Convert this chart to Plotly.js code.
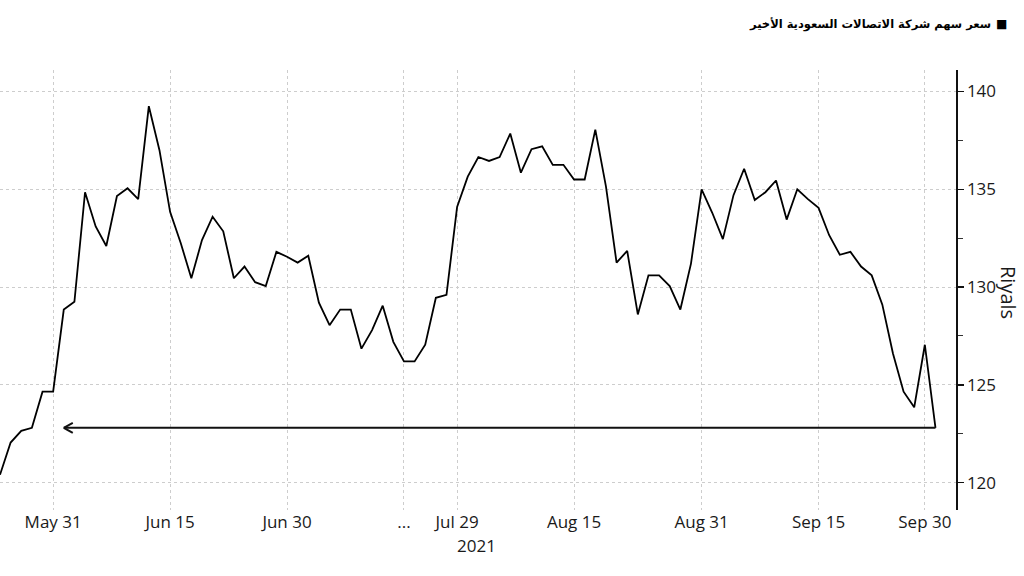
<!DOCTYPE html>
<html>
<head>
<meta charset="utf-8">
<script src="https://cdn.plot.ly/plotly-3.0.1.min.js"></script>
<style>html,body{margin:0;padding:0;background:#fff;}#chart{width:1024px;height:576px;}</style>
</head>
<body>
<div id="chart"></div>
<script>
// Trading days (Tadawul, Sun–Thu)
const dates = [
  "2021-05-24","2021-05-25","2021-05-26","2021-05-27","2021-05-30","2021-05-31",
  "2021-06-01","2021-06-02","2021-06-03","2021-06-06","2021-06-07","2021-06-08","2021-06-09","2021-06-10",
  "2021-06-13","2021-06-14","2021-06-15","2021-06-16","2021-06-17","2021-06-20","2021-06-21","2021-06-22",
  "2021-06-23","2021-06-24","2021-06-27","2021-06-28","2021-06-29","2021-06-30","2021-07-01",
  "2021-07-04","2021-07-05","2021-07-06","2021-07-07","2021-07-08","2021-07-11","2021-07-12","2021-07-13",
  "2021-07-14","2021-07-15","2021-07-25","2021-07-26","2021-07-27","2021-07-28","2021-07-29",
  "2021-08-01","2021-08-02","2021-08-03","2021-08-04","2021-08-05","2021-08-08","2021-08-09","2021-08-10",
  "2021-08-11","2021-08-12","2021-08-15","2021-08-16","2021-08-17","2021-08-18","2021-08-19",
  "2021-08-22","2021-08-23","2021-08-24","2021-08-25","2021-08-26","2021-08-29","2021-08-30","2021-08-31",
  "2021-09-01","2021-09-02","2021-09-05","2021-09-06","2021-09-07","2021-09-08","2021-09-09",
  "2021-09-12","2021-09-13","2021-09-14","2021-09-15","2021-09-16","2021-09-19","2021-09-20","2021-09-21",
  "2021-09-22","2021-09-26","2021-09-27","2021-09-28","2021-09-29","2021-09-30","2021-10-03"
];
// Closing price, riyals
const prices = [
  120.4,122.05,122.65,122.8,124.65,124.65,
  128.85,129.25,134.85,133.1,132.1,134.65,135.05,134.5,
  139.25,137.0,133.85,132.25,130.45,132.4,133.6,132.85,
  130.45,131.05,130.25,130.05,131.8,131.55,131.25,
  131.6,129.2,128.05,128.85,128.85,126.85,127.8,129.05,
  127.2,126.2,126.2,127.05,129.45,129.6,134.1,
  135.65,136.65,136.45,136.65,137.85,135.85,137.05,137.2,
  136.25,136.25,135.5,135.5,138.05,135.15,131.25,
  131.85,128.6,130.6,130.6,130.05,128.85,131.2,135.0,
  133.8,132.45,134.7,136.05,134.45,134.85,135.45,
  133.45,135.0,134.5,134.05,132.65,131.65,131.8,131.05,
  130.6,129.1,126.6,124.65,123.85,127.05,122.8
];
const tickDates  = ["2021-05-31","2021-06-15","2021-06-30","2021-07-15","2021-07-29","2021-08-15","2021-08-31","2021-09-15","2021-09-30"];
const tickLabels = ["May 31","Jun 15","Jun 30","...","Jul 29","Aug 15","Aug 31","Sep 15","Sep 30"];
const yearLabel = "2021";
const yearLabelDate = "2021-07-29";
const arrowEndDate = "2021-06-01";
const yTicks = [120,125,130,135,140];
const titleText = "سعر سهم شركة الاتصالات السعودية الأخير";
const yAxisLabel = "Riyals";

const lastPrice = prices[prices.length-1];
const lastDate = dates[dates.length-1];
const arrowIdx = dates.indexOf(arrowEndDate);

const W = 1024, H = 576;
const M = {l:0, r:68, t:70, b:66};
const plotW = W - M.l - M.r, plotH = H - M.t - M.b;
const px = x => (x - M.l) / plotW;          // figure px -> paper x
const py = y => (H - M.b - y) / plotH;      // figure px -> paper y

const tickFont = {family:"Open Sans, DejaVu Sans, sans-serif", size:17, color:"#1a1a1a"};

const traces = [
  {x: dates, y: prices, type:"scatter", mode:"lines",
   line:{color:"#000", width:1.8}, hoverinfo:"skip", showlegend:false},
  {x:[arrowEndDate, lastDate], y:[lastPrice, lastPrice], type:"scatter", mode:"lines",
   line:{color:"#111", width:2}, hoverinfo:"skip", showlegend:false}
];

const layout = {
  width: W, height: H,
  margin: M,
  paper_bgcolor:"#fff", plot_bgcolor:"#fff",
  showlegend:false,
  xaxis:{
    type:"category", categoryorder:"array", categoryarray: dates,
    range:[0, 89.93],
    tickmode:"array", tickvals: tickDates, ticktext: tickLabels,
    showgrid:true, gridcolor:"#cdcdcd", griddash:"dot", gridwidth:1,
    showline:false, zeroline:false, ticks:"",
    tickfont: tickFont, fixedrange:true
  },
  yaxis:{
    side:"right", range:[118.6, 141.1],
    tickmode:"array", tickvals: yTicks,
    showgrid:true, gridcolor:"#cdcdcd", griddash:"dot", gridwidth:1,
    showline:true, linecolor:"#111", linewidth:1.5, mirror:false,
    ticks:"outside", ticklen:6, tickwidth:1.5, tickcolor:"#111",
    minor:{dtick:2.5, tick0:0, ticks:"outside", ticklen:5, tickwidth:1, tickcolor:"#333", showgrid:false},
    zeroline:false, tickfont: tickFont, fixedrange:true
  },
  shapes:[
    {type:"line", xref:"x", yref:"y", xsizemode:"pixel", ysizemode:"pixel",
     xanchor: arrowIdx, yanchor: lastPrice, x0:0, x1:9, y0:0, y1:5, line:{color:"#111", width:2}},
    {type:"line", xref:"x", yref:"y", xsizemode:"pixel", ysizemode:"pixel",
     xanchor: arrowIdx, yanchor: lastPrice, x0:0, x1:9, y0:0, y1:-5, line:{color:"#111", width:2}}
  ],
  annotations:[
    {text: yAxisLabel, xref:"paper", yref:"paper", x: px(1009), y: py(292),
     xanchor:"center", yanchor:"middle", textangle:90, showarrow:false,
     font:{family:"Open Sans, DejaVu Sans, sans-serif", size:20, color:"#1a1a1a"}},
    {text: yearLabel, xref:"x", yref:"paper", x: dates.indexOf(yearLabelDate), y: py(545),
     xanchor:"left", yanchor:"middle", showarrow:false, xshift:-2, font: tickFont},
    {text: "<b>"+titleText+"</b>", xref:"paper", yref:"paper", x: px(993), y: py(25),
     xanchor:"right", yanchor:"middle", showarrow:false,
     font:{family:"DejaVu Sans, Liberation Sans, sans-serif", size:11.5, color:"#000"}},
    {text: "■", xref:"paper", yref:"paper", x: px(1001), y: py(24),
     xanchor:"center", yanchor:"middle", showarrow:false,
     font:{family:"DejaVu Sans, sans-serif", size:12, color:"#000"}}
  ]
};

Plotly.newPlot("chart", traces, layout, {displayModeBar:false, staticPlot:true});
</script>
</body>
</html>
